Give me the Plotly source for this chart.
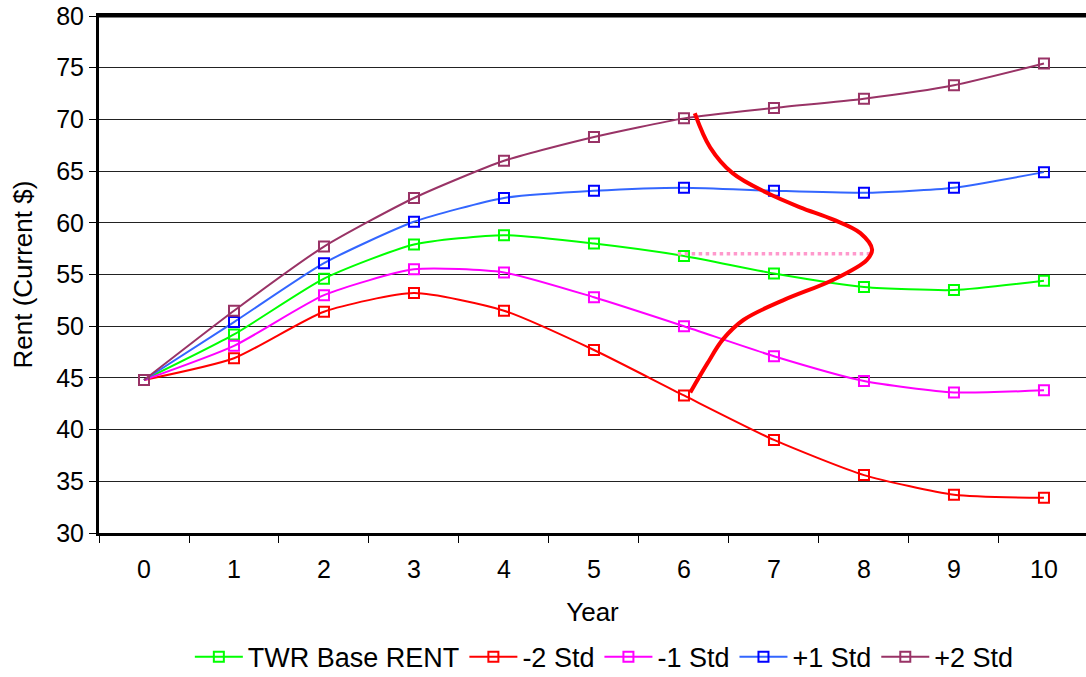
import plotly.graph_objects as go

years = list(range(11))
base_rent = [44.8, 49.2, 54.6, 57.9, 58.8, 58.0, 56.8, 55.1, 53.8, 53.5, 54.4]
minus2 = [44.8, 46.9, 51.4, 53.2, 51.5, 47.7, 43.3, 39.0, 35.6, 33.7, 33.4]
minus1 = [44.8, 48.1, 53.0, 55.5, 55.2, 52.8, 50.0, 47.1, 44.7, 43.6, 43.8]
plus1 = [44.8, 50.4, 56.1, 60.1, 62.4, 63.1, 63.4, 63.1, 62.9, 63.4, 64.9]
plus2 = [44.8, 51.5, 57.7, 62.4, 66.0, 68.3, 70.1, 71.1, 72.0, 73.3, 75.4]

# overlay distribution curve, in data coordinates
dist_x = [6.12, 6.29, 6.54, 6.92, 7.29, 7.66, 7.96, 8.09, 8.03, 7.66, 7.10, 6.66, 6.43, 6.26, 6.07]
dist_y = [70.6, 67.3, 64.8, 62.9, 61.5, 60.3, 59.0, 57.4, 56.4, 54.5, 52.5, 50.6, 48.7, 46.4, 43.6]
mean_x = [5.93, 8.09]
mean_y = [57.0, 57.0]

series = [
    ("TWR Base RENT", base_rent, "#00FF00", "#00FF00"),
    ("-2 Std", minus2, "#FF0000", "#FF0000"),
    ("-1 Std", minus1, "#FF00FF", "#FF00FF"),
    ("+1 Std", plus1, "#3366FF", "#0000FF"),
    ("+2 Std", plus2, "#993366", "#993366"),
]

fig = go.Figure()
for name, vals, lc, mc in series:
    fig.add_trace(go.Scatter(
        x=years, y=vals, name=name, mode="lines+markers",
        line=dict(color=lc, width=2, shape="spline", smoothing=0.6),
        marker=dict(symbol="square-open", size=10, color=mc, line=dict(width=2, color=mc)),
    ))

fig.add_trace(go.Scatter(
    x=mean_x, y=mean_y, mode="lines", showlegend=False, hoverinfo="skip",
    line=dict(color="#FF99CC", width=3.5, dash="dot"),
))
fig.add_trace(go.Scatter(
    x=dist_x, y=dist_y, mode="lines", showlegend=False, hoverinfo="skip",
    line=dict(color="#FF0000", width=4, shape="spline", smoothing=1),
))

font_family = "Liberation Sans, Arial, sans-serif"

fig.update_layout(
    width=1086, height=677,
    margin=dict(l=99, r=0, t=16, b=144, autoexpand=False),
    paper_bgcolor="white", plot_bgcolor="white",
    font=dict(family=font_family, size=25, color="black"),
    showlegend=True,
    legend=dict(
        orientation="h", x=0.512, xanchor="center", y=-0.24, yanchor="middle",
        font=dict(size=27), itemwidth=48, tracegroupgap=0,
        bgcolor="rgba(0,0,0,0)",
    ),
    xaxis=dict(
        range=[-0.5, 10.467], tickmode="array", tickvals=years,
        ticktext=[str(y) for y in years],
        ticks="", showgrid=False, zeroline=False, automargin=False,
        showline=True, linecolor="black", linewidth=3, mirror=True,
        ticklabelstandoff=12,
        minor=dict(ticks="outside", tick0=0.5, dtick=1, ticklen=7, tickwidth=1,
                   tickcolor="black", showgrid=False),
        title=dict(text="Year", font=dict(size=26), standoff=21),
    ),
    yaxis=dict(
        range=[30, 80], tickmode="linear", tick0=30, dtick=5, automargin=False,
        ticks="outside", ticklen=7, tickcolor="black", tickwidth=1,
        ticklabeloverflow="allow",
        showgrid=True, gridcolor="#222222", gridwidth=1,
        zeroline=False, showline=True, linecolor="black", linewidth=3,
    ),
    shapes=[dict(type="line", xref="paper", yref="y", x0=0, x1=1, y0=80, y1=80,
                 line=dict(color="black", width=3), layer="above")],
    annotations=[dict(text="Rent (Current $)", textangle=-90, xref="paper", yref="paper",
                      x=0, y=0.5, xanchor="center", yanchor="middle", xshift=-77,
                      showarrow=False, font=dict(size=26))],
)

# remove the browser's default 8px body margin so the figure fills the window exactly
fig.write_html("out.html", config={"displayModeBar": False},
               post_script="document.body.style.margin='0';")
